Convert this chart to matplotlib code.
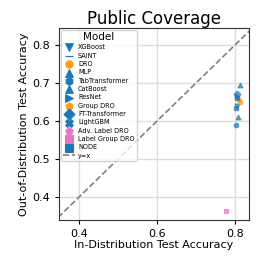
import matplotlib
matplotlib.use("Agg")
import matplotlib.pyplot as plt

models = ["XGBoost", "SAINT", "DRO", "MLP", "TabTransformer", "CatBoost", "ResNet",
          "Group DRO", "FT-Transformer", "LightGBM", "Adv. Label DRO", "Label Group DRO", "NODE"]
id_acc = [0.805, 0.807, 0.812, 0.813, 0.803, 0.808, 0.806, 0.810, 0.806, 0.803, None, 0.777, 0.805]
ood_acc = [0.640, 0.662, 0.650, 0.695, 0.590, 0.612, 0.665, 0.655, 0.672, 0.635, None, 0.363, 0.660]
markers = ["v", "_", "8", "^", "h", "^", ">", "p", "D", "X", "p", "s", "s"]
colors = ["#1f77b4", "#1f77b4", "#ff9f1c", "#1f77b4", "#1f77b4", "#1f77b4", "#1f77b4",
          "#ff9f1c", "#1f77b4", "#1f77b4", "#e377c2", "#e377c2", "#1f77b4"]

fig = plt.figure(figsize=(2.66, 2.66), dpi=100)
ax = fig.add_axes([0.222, 0.173, 0.714, 0.722])
ax.set_xlim(0.349, 0.836)
ax.set_ylim(0.34, 0.845)
ax.grid(True, color="#dddddd", linewidth=1.0)
ax.set_axisbelow(True)
for s in ax.spines.values():
    s.set_color("#333333")
    s.set_linewidth(0.8)

for m, x, y, mk, c in zip(models, id_acc, ood_acc, markers, colors):
    xs = [] if x is None else [x]
    ys = [] if y is None else [y]
    ax.scatter(xs, ys, marker=mk, color=c, s=12, alpha=0.7, label=m, linewidths=0.8)

ax.plot([0, 1], [0, 1], linestyle="--", color="gray", label="y=x", linewidth=1.2)

ax.set_xticks([0.4, 0.6, 0.8])
ax.set_yticks([0.4, 0.5, 0.6, 0.7, 0.8])
ax.tick_params(labelsize=8, length=3, width=0.8)
ax.set_xlabel("In-Distribution Test Accuracy", fontsize=8, labelpad=1)
ax.set_ylabel("Out-of-Distribution Test Accuracy", fontsize=8, labelpad=2)
ax.set_title("Public Coverage", fontsize=12, pad=3)

leg = ax.legend(loc="upper left", title="Model", fontsize=4.7, title_fontsize=7.5,
                frameon=True, borderpad=0.3, labelspacing=0.36, handletextpad=0.5,
                markerscale=1.6, borderaxespad=0.3, handlelength=1.8)
for h in leg.legend_handles:
    try:
        h.set_alpha(1)
    except Exception:
        pass

fig.savefig("out.png", dpi=100)
